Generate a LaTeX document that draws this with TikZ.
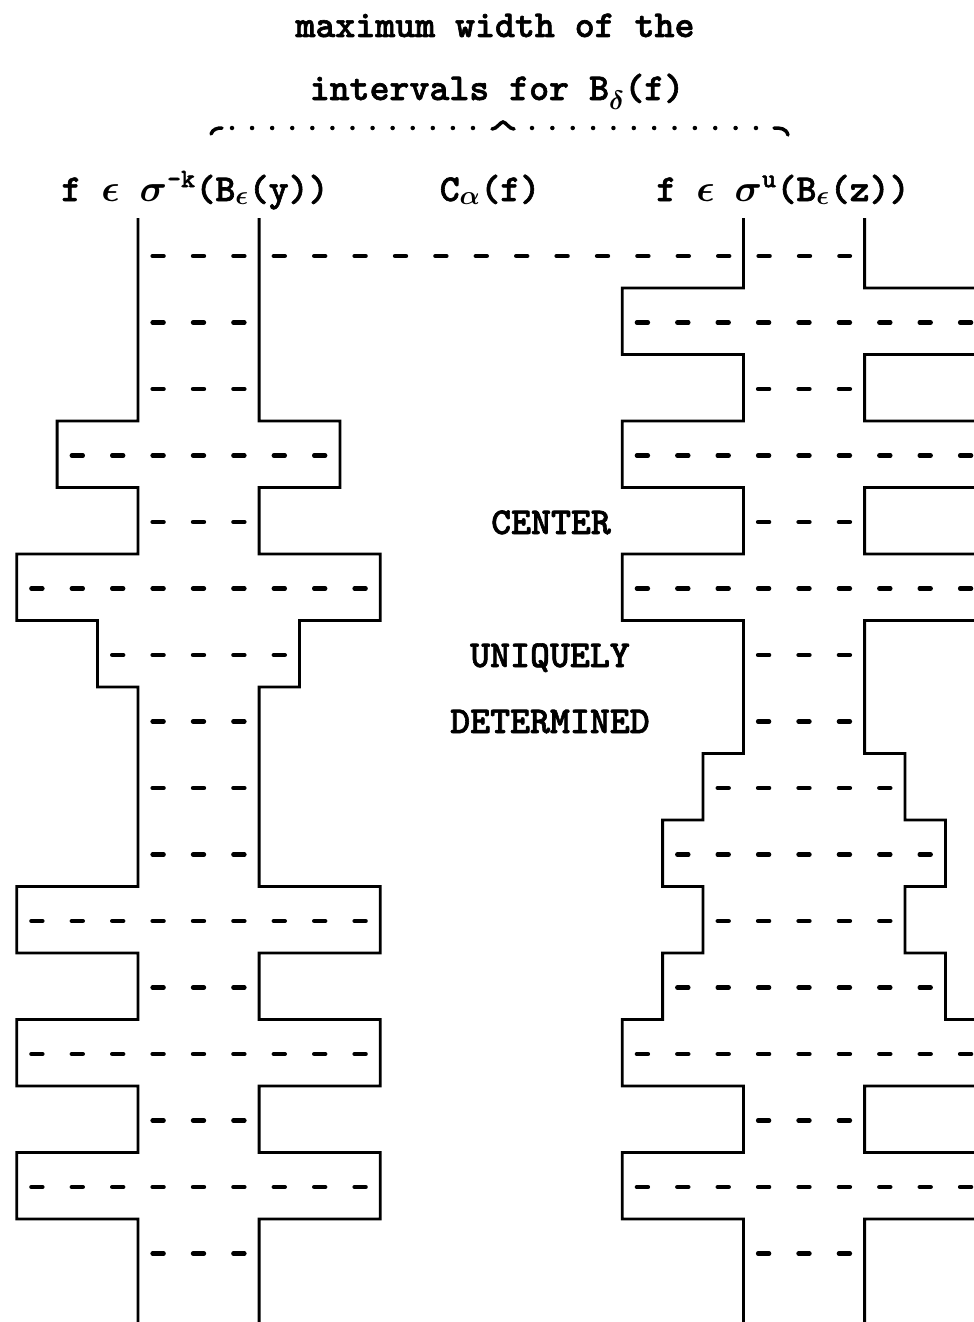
\documentclass[tikz,border=0pt]{standalone}
\usepackage{fix-cm}
\usepackage{fontspec}
\newfontfamily\tyb{lmmonolt10-bold}[Extension=.otf,FakeBold=1.6]
\newcommand\gsym[1]{{\boldmath$#1$}}
\begin{document}
\begin{tikzpicture}[x=1pt,y=-1pt,
  wall/.style={line width=2.8pt},
  dashrow/.style={line width=4.4pt,line cap=round,dash pattern=on 11pt off 29.4pt},
  txt/.style={font=\fontsize{38}{44}\selectfont\tyb,inner sep=0pt,anchor=base},
  bracedots/.style={line width=4.5pt,line cap=round,dash pattern=on 0pt off 20.08pt},
  bracehook/.style={line width=3.5pt,line cap=round}]
\useasboundingbox (0,0) rectangle (974,1322);
\clip (0,0) rectangle (974,1322);

% ---- texts
\node[txt] (t1) at (495,37) {maximum width of the};
\node[txt] (t2) at (497,100) {intervals for B\textsubscript{\gsym{\delta}}(f)};
\node[txt] (hl) at (195,201) {f \gsym{\epsilon} \gsym{\sigma}\textsuperscript{-k}(B\textsubscript{\gsym{\epsilon}}(y))};
\node[txt] (hc) at (490,201) {C\textsubscript{\gsym{\alpha}}(f)};
\node[txt] (hr) at (783,201) {f \gsym{\epsilon} \gsym{\sigma}\textsuperscript{u}(B\textsubscript{\gsym{\epsilon}}(z))};
\node[txt] (c1) at (551,534) {CENTER};
\node[txt] (c2) at (550,667) {UNIQUELY};
\node[txt] (c3) at (550,733) {DETERMINED};

% ---- dotted brace
\draw[bracehook] (211,134) .. controls (213,129) and (217,128) .. (222,128);
\draw[bracedots] (232,128) -- (473,128);
\draw[bracehook] (492,129) .. controls (497,129) and (500,122) .. (503,122) .. controls (506,122) and (509,129) .. (514,129);
\draw[bracedots,dash pattern=on 0pt off 20.36pt] (532,128) -- (756,128);
\draw[bracehook] (774,128) .. controls (780,128) and (786,128) .. (788,135);

% ---- left column walls (centre 198.5)
\draw[wall] (137.9,218) \foreach \n [count=\i from 0] in {3,3,3,7,3,9,5,3,3,3,9,3,9,3,9,3}
  { -- ({198.5-20.2*\n},{221.5+66.5*\i}) -- ({198.5-20.2*\n},{288+66.5*\i}) } -- (137.9,1322);
\draw[wall] (259.1,218) \foreach \n [count=\i from 0] in {3,3,3,7,3,9,5,3,3,3,9,3,9,3,9,3}
  { -- ({198.5+20.2*\n},{221.5+66.5*\i}) -- ({198.5+20.2*\n},{288+66.5*\i}) } -- (259.1,1322);

% ---- right column walls (centre 804)
\draw[wall] (743.4,218) \foreach \n [count=\i from 0] in {3,9,3,9,3,9,3,3,5,7,5,7,9,3,9,3}
  { -- ({804-20.2*\n},{221.5+66.5*\i}) -- ({804-20.2*\n},{288+66.5*\i}) } -- (743.4,1322);
\draw[wall] (864.6,218) \foreach \n [count=\i from 0] in {3,9,3,9,3,9,3,3,5,7,5,7,9,3,9,3}
  { -- ({804+20.2*\n},{221.5+66.5*\i}) -- ({804+20.2*\n},{288+66.5*\i}) } -- (864.6,1322);

% ---- dashed rows
\draw[dashrow] (152.6,256) -- (849.9,256);
\foreach \n [count=\i from 1] in {3,3,7,3,9,5,3,3,3,9,3,9,3,9,3}
  \draw[dashrow] ({198.5-20.2*(\n-1)-5.5},{256+66.5*\i}) -- ({198.5+20.2*(\n-1)+5.5},{256+66.5*\i});
\foreach \n [count=\i from 1] in {9,3,9,3,9,3,3,5,7,5,7,9,3,9,3}
  \draw[dashrow] ({804-20.2*(\n-1)-5.5},{256+66.5*\i}) -- ({804+20.2*(\n-1)+5.5},{256+66.5*\i});
\end{tikzpicture}
\end{document}
